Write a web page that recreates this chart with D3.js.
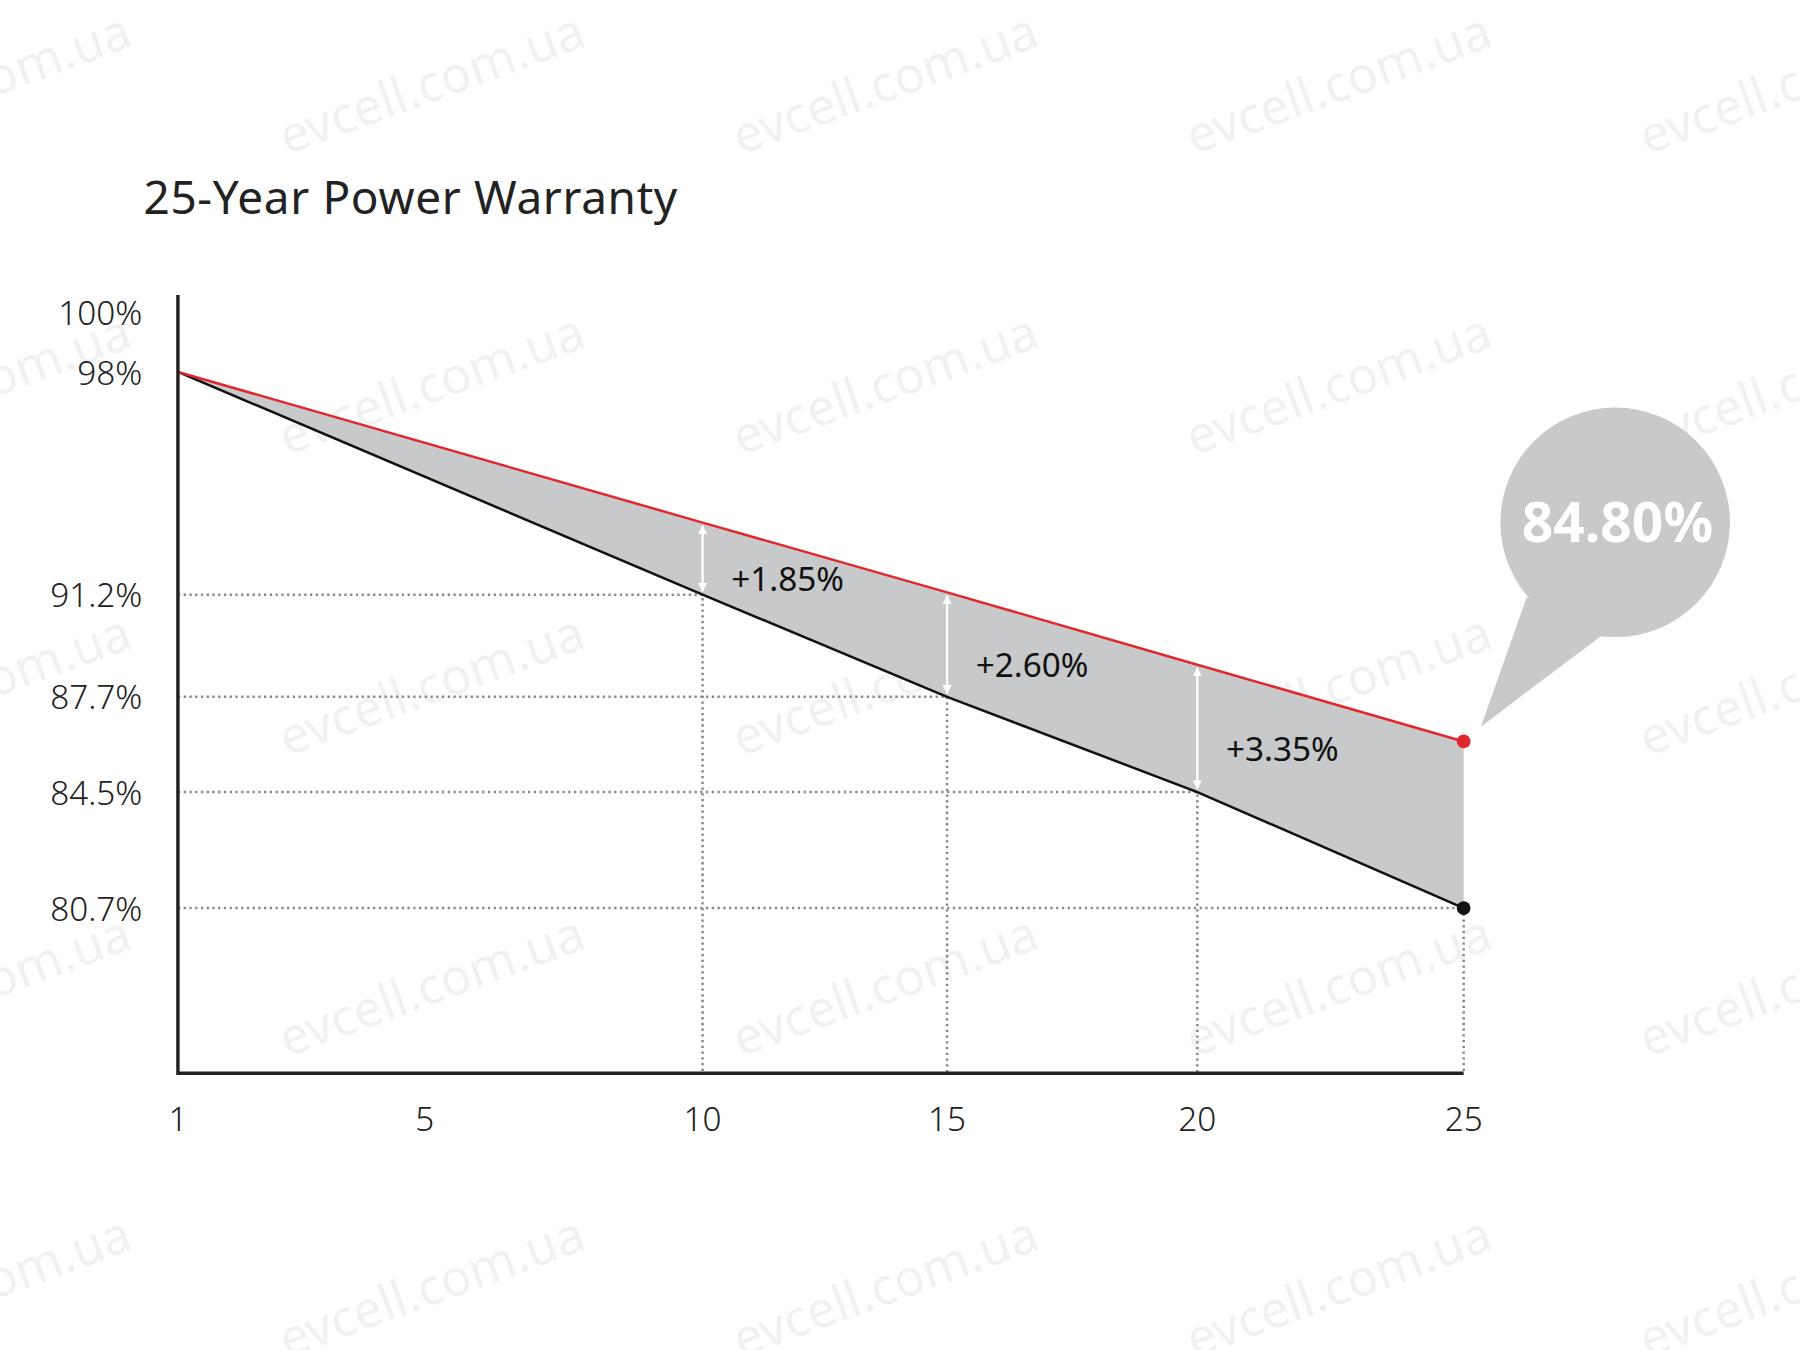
<!DOCTYPE html>
<html><head><meta charset="utf-8">
<script src="https://cdn.jsdelivr.net/npm/d3@7"></script>
<style>body{margin:0;background:#fff}svg{display:block}</style>
</head><body>
<div id="chart"></div>
<script>
const years = [1, 5, 10, 15, 20, 25];
const pointYears = [1, 10, 15, 20, 25];
const standard = [98, 91.2, 87.7, 84.5, 80.7];
const enhanced = [98, 93.4, 91.27, 88.8, 86.2];
const gains = ["+1.85%", "+2.60%", "+3.35%"];
const yTicks = [100, 98, 91.2, 87.7, 84.5, 80.7];
const bubbleLabel = "84.80%";

const W = 1568, H = 1176;
const svg = d3.select("#chart").append("svg")
    .attr("width", 1800).attr("height", 1350)
    .attr("viewBox", `0 0 ${W} ${H}`);

const font = "'Noto Sans', 'Open Sans', sans-serif";
// the picture's axes are not evenly spaced, so both scales are piecewise
const x = d3.scaleLinear().domain(years).range([155, 370, 612, 825, 1043, 1275]);
const y = d3.scaleLinear().domain([75.2, 80.7, 84.5, 87.7, 91.2, 98, 100.6])
    .range([935, 791, 690, 607, 518, 324, 257]);
const yMin = 75.2, yMax = 100.6;

// watermark
const wm = svg.append("g");
for (let r = 0; r < 5; r++) {
    for (let c = 0; c < 5; c++) {
        wm.append("text")
            .attr("transform", `translate(${c * 395 - 145},${135 + r * 262}) rotate(-20)`)
            .attr("font-family", font).attr("font-size", 44)
            .attr("fill", "#000").attr("opacity", 0.05)
            .text("evcell.com.ua");
    }
}

svg.append("text").attr("x", 125).attr("y", 186)
    .attr("font-family", font).attr("font-size", 40).attr("fill", "#222")
    .attr("textLength", 465)
    .text("25-Year Power Warranty");

const pts = pointYears.map((yr, i) => ({yr, s: standard[i], e: enhanced[i]}));

// shaded gap
svg.append("path").datum(pts)
    .attr("d", d3.area().x(d => x(d.yr)).y0(d => y(d.s)).y1(d => y(d.e)))
    .attr("fill", "#c7c9cb");

// dotted guides
pts.slice(1).forEach(d => {
    svg.append("path")
        .attr("d", `M${x(1)},${y(d.s)}H${x(d.yr)}V${y(yMin)}`)
        .attr("fill", "none").attr("stroke", "#888").attr("stroke-width", 2.2)
        .attr("stroke-dasharray", "2,3");
});

// arrows
const defs = svg.append("defs");
defs.append("marker").attr("id", "ah").attr("viewBox", "0 0 10 10")
    .attr("refX", 9).attr("refY", 5).attr("markerWidth", 4).attr("markerHeight", 6)
    .attr("orient", "auto-start-reverse")
    .append("path").attr("d", "M0,0L10,5L0,10z").attr("fill", "#fff");
pts.slice(1, 4).forEach((d, i) => {
    svg.append("line")
        .attr("x1", x(d.yr)).attr("x2", x(d.yr))
        .attr("y1", y(d.e) + 3).attr("y2", y(d.s) - 3)
        .attr("stroke", "#fff").attr("stroke-width", 2)
        .attr("marker-start", "url(#ah)").attr("marker-end", "url(#ah)");
    svg.append("text")
        .attr("x", x(d.yr) + 25).attr("y", (y(d.e) + y(d.s)) / 2 + 28)
        .attr("font-family", font).attr("font-size", 29).attr("fill", "#111")
        .text(gains[i]);
});

const line = d3.line().x(d => x(d.yr));
svg.append("path").datum(pts).attr("d", line.y(d => y(d.s)))
    .attr("fill", "none").attr("stroke", "#111").attr("stroke-width", 2.2);
svg.append("path").datum(pts).attr("d", line.y(d => y(d.e)))
    .attr("fill", "none").attr("stroke", "#e0282e").attr("stroke-width", 2.2);

const last = pts[pts.length - 1];
svg.append("circle").attr("cx", x(last.yr)).attr("cy", y(last.e)).attr("r", 6).attr("fill", "#e0282e");
svg.append("circle").attr("cx", x(last.yr)).attr("cy", y(last.s)).attr("r", 6).attr("fill", "#111");

// axes
svg.append("path").attr("d", `M${x(1)},${y(yMax)}V${y(yMin)}H${x(25)}`)
    .attr("fill", "none").attr("stroke", "#222").attr("stroke-width", 3);
yTicks.forEach(t => {
    svg.append("text").attr("x", 124).attr("y", y(t) + 11).attr("text-anchor", "end")
        .attr("font-family", font).attr("font-weight", 300).attr("font-size", 29).attr("fill", "#222")
        .text(t + "%");
});
years.forEach(t => {
    svg.append("text").attr("x", x(t)).attr("y", 985).attr("text-anchor", "middle")
        .attr("font-family", font).attr("font-weight", 300).attr("font-size", 29).attr("fill", "#222")
        .text(t);
});

// bubble
svg.append("path").attr("d", "M1330,520L1290,633L1400,550Z").attr("fill", "#c7c9cb");
svg.append("circle").attr("cx", 1407).attr("cy", 455).attr("r", 100).attr("fill", "#c7c9cb");
svg.append("text").attr("x", 1409).attr("y", 472).attr("text-anchor", "middle")
    .attr("font-family", font).attr("font-weight", 700).attr("font-size", 48).attr("fill", "#fff")
    .text(bubbleLabel);
</script>
</body></html>
